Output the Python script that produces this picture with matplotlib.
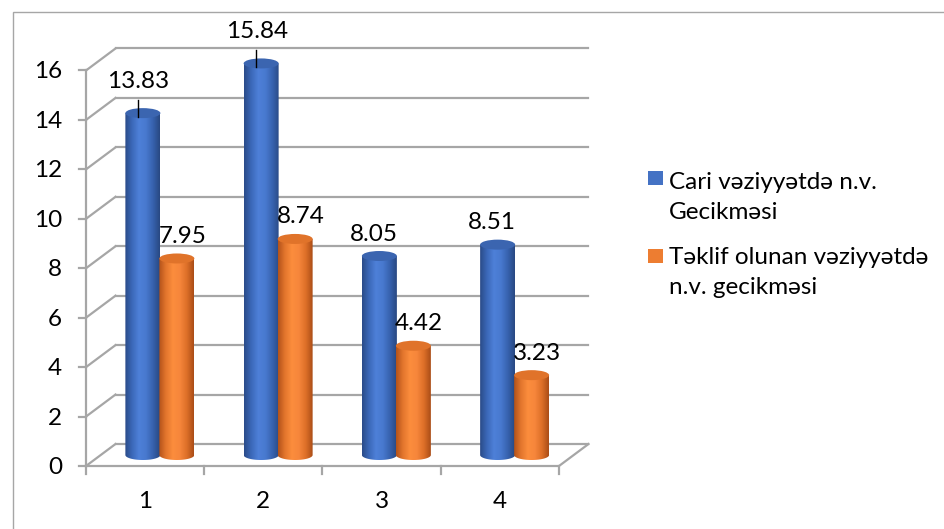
import numpy as np
import matplotlib
matplotlib.use("Agg")
import matplotlib.pyplot as plt
from matplotlib.patches import Ellipse, Rectangle, Polygon
from matplotlib.colors import LinearSegmentedColormap

categories = ["1", "2", "3", "4"]
current_delay = [13.83, 15.84, 8.05, 8.51]
proposed_delay = [7.95, 8.74, 4.42, 3.23]
series_names = ["Cari vəziyyətdə n.v.\nGecikməsi",
                "Təklif olunan vəziyyətdə\nn.v. gecikməsi"]
y_ticks = [0, 2, 4, 6, 8, 10, 12, 14, 16]

plt.rcParams['font.family'] = ['Lato', 'DejaVu Sans']

W, H = 944, 529
fig = plt.figure(figsize=(W / 100, H / 100), dpi=100)
ax = fig.add_axes([0, 0, 1, 1])
ax.axis('off')

# pixel layout of the front plane
px_left, px_cat = 86, 118.25
py_zero, py_unit = 466, 24.72
PX = 1 / px_cat      # one pixel in x data units
PY = 1 / py_unit     # one pixel in y data units
DX, DY = 29.5 * PX, 22 * PY   # depth offset of back wall
BAR_W = 35 * PX
ELL_H = 10 * PY

grid_c = '#a6a6a6'
fs = 17.5
n = len(categories)
x0, x1 = 0.5, n + 0.5

# walls, floor, grid
for v in y_ticks:
    ax.plot([x0 + DX, x1 + DX], [v + DY, v + DY], color=grid_c, lw=1.6, zorder=1)
    ax.plot([x0, x0 + DX], [v, v + DY], color=grid_c, lw=1.6, zorder=1)
    ax.plot([x0 - 7 * PX, x0], [v, v], color=grid_c, lw=1.6, zorder=1)
    ax.text(x0 - 24 * PX, v - 1.5 * PY, str(v), ha='right', va='center', fontsize=fs,
            color='black')
ax.plot([x0, x0], [0, y_ticks[-1]], color=grid_c, lw=1.6, zorder=1)
ax.plot([x0, x1, x1 + DX], [0, 0, DY], color=grid_c, lw=1.6, zorder=1)
for i in range(n + 1):
    ax.plot([x0 + i, x0 + i], [0, -8 * PY], color=grid_c, lw=1.6, zorder=1)
for i, c in enumerate(categories):
    ax.text(i + 1, -35 * PY, c, ha='center', va='center', fontsize=fs, color='black')

blue_cmap = LinearSegmentedColormap.from_list(
    'b', ['#2a4b88', '#3b68b8', '#4e80d8', '#4879cf', '#3762ae', '#284881'])
orange_cmap = LinearSegmentedColormap.from_list(
    'o', ['#b2521a', '#e3762d', '#fc8d3d', '#f6863b', '#dd6f28', '#a94c17'])
grad = np.linspace(0, 1, 256).reshape(1, -1)


def cylinder(xc, value, cmap, top_color, z):
    base = DY / 2
    top_y = value + DY / 2
    t = np.linspace(np.pi, 2 * np.pi, 60)
    bottom = np.column_stack([xc + BAR_W / 2 * np.cos(t), base + ELL_H / 2 * np.sin(t)])
    verts = np.vstack([bottom, [[xc + BAR_W / 2, top_y], [xc - BAR_W / 2, top_y]]])
    body = Polygon(verts, closed=True, facecolor='none', edgecolor='none')
    ax.add_patch(body)
    im = ax.imshow(grad, cmap=cmap, aspect='auto', interpolation='bilinear',
                   extent=[xc - BAR_W / 2, xc + BAR_W / 2, base - ELL_H / 2, top_y],
                   zorder=z)
    im.set_clip_path(body)
    ax.add_patch(Ellipse((xc, top_y), BAR_W, ELL_H, facecolor=top_color,
                         edgecolor='none', zorder=z + 0.1))
    return top_y


series = [current_delay, proposed_delay]
styles = [(blue_cmap, '#3b65b0', -17 * PX, -5.5),
          (orange_cmap, '#e0732a', 17 * PX, 5.5)]
with_leader = [[True, True, False, False], [False, False, False, False]]

for s, (vals, (cmap, topc, off, ldx)) in enumerate(zip(series, styles)):
    for i, v in enumerate(vals):
        xc = i + 1 + DX / 2 + off
        top_y = cylinder(xc, v, cmap, topc, 3 + s)
        if with_leader[s][i]:
            ax.plot([xc - 5 * PX, xc - 5 * PX], [top_y - 4 * PY, top_y + 13 * PY],
                    color='black', lw=1, zorder=6)
            dx_px, dy_px = -4.5, 32
        else:
            dx_px, dy_px = ldx, 22
        ax.annotate(f"{v:.2f}", xy=(xc, top_y), xytext=(dx_px * 0.72, dy_px * 0.72),
                    textcoords='offset points', ha='center', va='center',
                    fontsize=fs, color='black', zorder=7)

# legend
leg_colors = ['#4472c4', '#ed7d31']
leg_rows = [(171, [189, 219]), (249, [264, 294])]
for name, col, (sq_top, baselines) in zip(series_names, leg_colors, leg_rows):
    ax.add_patch(Rectangle((648 / W, 1 - (sq_top + 14) / H), 15 / W, 14 / H,
                           transform=ax.transAxes, facecolor=col, edgecolor='none'))
    for line, b in zip(name.split('\n'), baselines):
        ax.text(669 / W, 1 - b / H, line, transform=ax.transAxes, ha='left',
                va='baseline', fontsize=fs, color='black')

# outer chart border (top and left visible)
ax.add_patch(Rectangle((12.5 / W, -0.1), 1.2, 1.1 - 11.5 / H, transform=ax.transAxes,
                       fill=False, edgecolor='#a6a6a6', lw=1.0))

ax.set_xlim(0.5 - px_left * PX, 0.5 + (W - px_left) * PX)
ax.set_ylim(-(H - py_zero) * PY, py_zero * PY)

fig.savefig("out.png", dpi=100)
